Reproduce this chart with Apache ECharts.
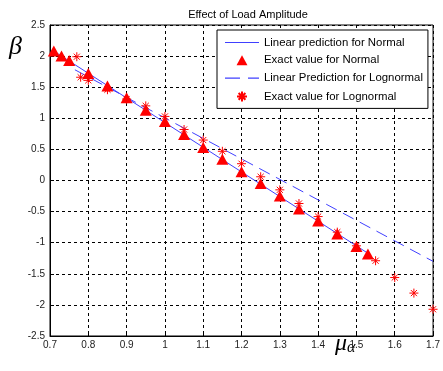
<!DOCTYPE html>
<html>
<head>
<meta charset="utf-8">
<script src="https://cdn.jsdelivr.net/npm/echarts@6/dist/echarts.min.js"></script>
<style>
  html, body { margin: 0; padding: 0; background: #fff; }
  #chart { width: 443px; height: 371px; }
</style>
</head>
<body>
<div id="chart"></div>
<script>
// load amplitude (mu_alpha) vs reliability index (beta)
const normalX = [0.71, 0.73, 0.75, 0.8, 0.85, 0.9, 0.95, 1.0, 1.05, 1.1, 1.15, 1.2, 1.25, 1.3, 1.35, 1.4, 1.45, 1.5, 1.53]
const normalY = [2.08, 2.0, 1.93, 1.72, 1.52, 1.33, 1.13, 0.95, 0.74, 0.53, 0.34, 0.14, -0.05, -0.25, -0.46, -0.65, -0.86, -1.06, -1.18]

const logX = [0.77, 0.78, 0.8, 0.85, 0.9, 0.95, 1.0, 1.05, 1.1, 1.15, 1.2, 1.25, 1.3, 1.35, 1.4, 1.45, 1.5, 1.55, 1.6, 1.65, 1.7]
const logY = [1.99, 1.66, 1.61, 1.46, 1.31, 1.2, 1.03, 0.82, 0.65, 0.47, 0.27, 0.06, -0.15, -0.37, -0.58, -0.83, -1.05, -1.29, -1.56, -1.81, -2.07]

// linear predictions (end points of each fitted line)
const normalLineX = [0.71, 1.53]
const normalLineY = [2.08, -1.17]
const logLineX = [0.765, 1.7]
const logLineY = [1.78, -1.3]

const xTicks = { min: 0.7, max: 1.7, step: 0.1 }
const yTicks = { min: -2.5, max: 2.5, step: 0.5 }

const pairs = (xs, ys) => xs.map((x, i) => [x, ys[i]])

const FONT = "'Liberation Sans', Arial, sans-serif"
const SERIF = "'Liberation Serif', 'DejaVu Serif', serif"
const star = "path://M5 0V10M0 5H10M1.6 1.6L8.4 8.4M1.6 8.4L8.4 1.6"
const tri = "path://M6 0L12 11L0 11Z"
// legend line samples
const solidIcon = "path://M0 0H34V1.2H0Z"
const dashIcon = "path://M0 0H15V1.2H0ZM23 0H34V1.2H23Z"

const chart = echarts.init(document.getElementById("chart"))

const option = {
  backgroundColor: "#fff",
  animation: false,
  title: {
    text: "Effect of Load Amplitude",
    left: 243,
    top: 4,
    textAlign: "center",
    textStyle: { fontFamily: FONT, fontSize: 11, fontWeight: "normal", color: "#000" },
  },
  grid: {
    left: 50,
    right: 6,
    top: 25,
    bottom: 35,
    show: true,
    borderColor: "#000",
    borderWidth: 1,
    backgroundColor: "#fff",
  },
  legend: {
    orient: "vertical",
    left: 217,
    top: 30,
    padding: [7, 5, 6, 8],
    itemGap: 6.8,
    itemWidth: 34,
    itemHeight: 10,
    symbolKeepAspect: true,
    backgroundColor: "#fff",
    borderColor: "#000",
    borderWidth: 1,
    borderRadius: 0,
    textStyle: { fontFamily: FONT, fontSize: 11.4, color: "#000" },
    data: [
      { name: "Linear prediction for Normal", icon: solidIcon },
      { name: "Exact value for Normal", icon: tri },
      { name: "Linear Prediction for Lognormal", icon: dashIcon },
      { name: "Exact value for Lognormal", icon: star },
    ],
  },
  xAxis: {
    type: "value",
    min: xTicks.min,
    max: xTicks.max,
    interval: xTicks.step,
    axisLine: { onZero: false, lineStyle: { color: "#000" } },
    axisTick: { inside: true, length: 4, lineStyle: { color: "#000" } },
    axisLabel: { fontFamily: FONT, fontSize: 10, color: "#222", margin: 4 },
    splitLine: { show: true, lineStyle: { color: "#000", type: [3, 3], width: 1 } },
  },
  yAxis: {
    type: "value",
    min: yTicks.min,
    max: yTicks.max,
    interval: yTicks.step,
    axisLine: { show: true, onZero: false, lineStyle: { color: "#000" } },
    axisTick: { show: true, inside: true, length: 4, lineStyle: { color: "#000" } },
    axisLabel: { fontFamily: FONT, fontSize: 10, color: "#222", margin: 5 },
    splitLine: { show: true, lineStyle: { color: "#000", type: [3, 3], width: 1 } },
  },
  graphic: [
    {
      type: "text",
      left: 9,
      top: 34,
      style: {
        text: "β",
        font: "italic 26px " + SERIF,
        fill: "#000",
      },
    },
    {
      type: "text",
      left: 335,
      top: 332,
      style: {
        text: "{m|μ}{a|α}",
        rich: {
          m: { font: "italic 24px " + SERIF, fill: "#000" },
          a: { font: "italic 16px " + SERIF, fill: "#000", padding: [7, 0, 0, 0] },
        },
      },
    },
  ],
  series: [
    {
      name: "Linear prediction for Normal",
      type: "line",
      data: pairs(normalLineX, normalLineY),
      symbol: "none",
      lineStyle: { color: "#4040ff", width: 1 },
      itemStyle: { color: "#4040ff" },
      z: 2,
    },
    {
      name: "Exact value for Normal",
      type: "scatter",
      data: pairs(normalX, normalY),
      symbol: "triangle",
      symbolSize: [12, 11],
      itemStyle: { color: "#ff0000", opacity: 1 },
      z: 3,
    },
    {
      name: "Linear Prediction for Lognormal",
      type: "line",
      data: pairs(logLineX, logLineY),
      symbol: "none",
      lineStyle: { color: "#4040ff", width: 1, type: [12, 7] },
      itemStyle: { color: "#4040ff" },
      z: 2,
    },
    {
      name: "Exact value for Lognormal",
      type: "scatter",
      data: pairs(logX, logY),
      symbol: star,
      symbolSize: 9,
      itemStyle: { color: "transparent", borderColor: "#ff0000", borderWidth: 1, opacity: 1 },
      z: 4,
    },
  ],
}

chart.setOption(option)
window.addEventListener("resize", () => chart.resize())
</script>
</body>
</html>
